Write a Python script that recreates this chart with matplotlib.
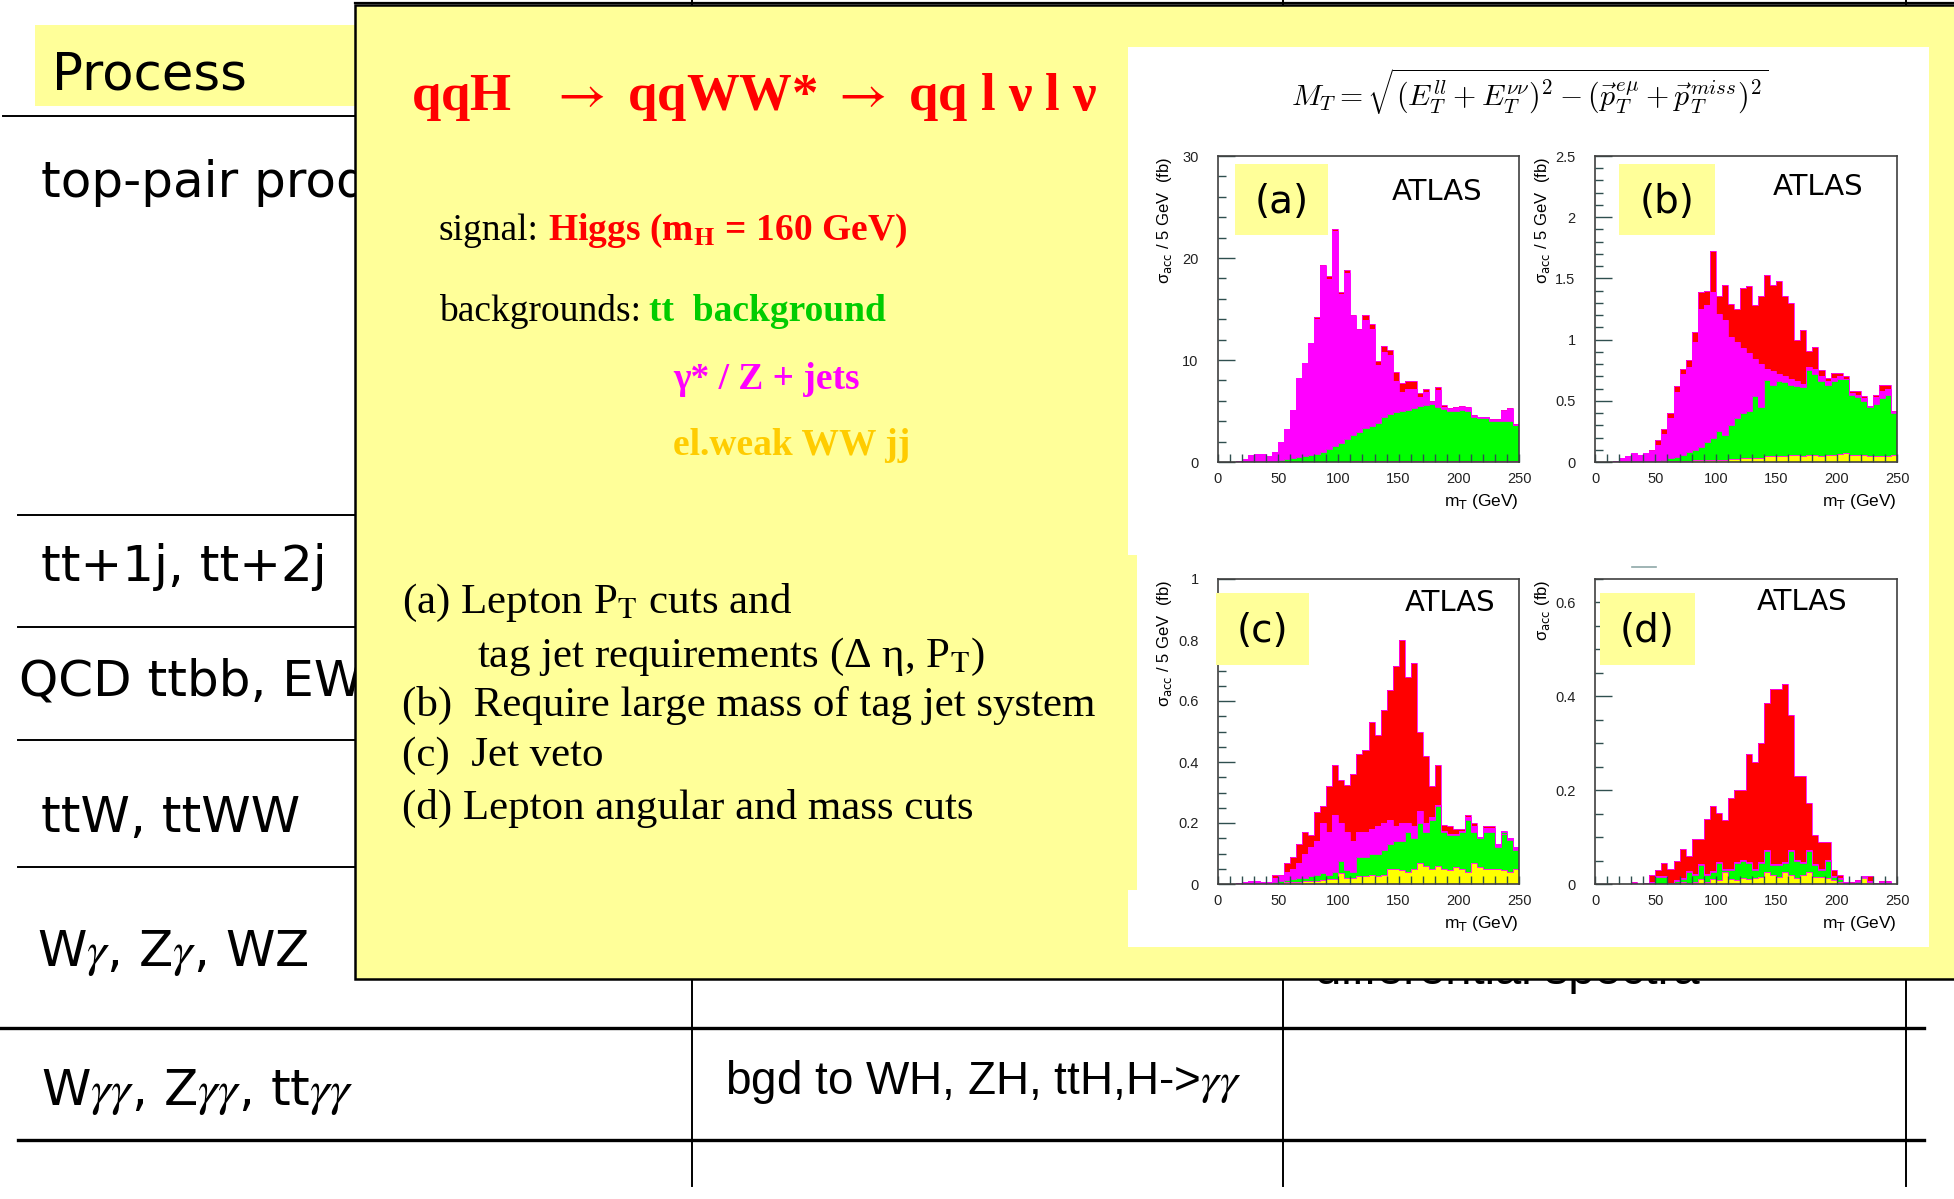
import numpy as np
import matplotlib.pyplot as plt
from matplotlib.patches import Rectangle
from matplotlib.ticker import MultipleLocator, FuncFormatter

W, H = 1954, 1199

plt.rcParams['font.family'] = ['Liberation Sans', 'DejaVu Sans']

SERIF = ['Liberation Serif', 'DejaVu Serif']
NARROW = ['Liberation Sans Narrow', 'Liberation Sans', 'DejaVu Sans']
HAND = ['DejaVu Sans']

# m_T in 5 GeV bins
edges = np.arange(0, 255, 5)

# stacked tops (fb / 5 GeV): ww = el.weak WWjj, tt = + ttbar, zj = + Z+jets, tot = + signal
a_ww = [0, 0, 0, 0, 0, 0, 0, 0, 0, 0,
        0, 0, 0, 0, 0, 0, 0, 0, 0.03, 0.03,
        0.04, 0.04, 0.05, 0.05, 0.05, 0.06, 0.06, 0.06, 0.07, 0.07,
        0.08, 0.08, 0.08, 0.09, 0.09, 0.1, 0.1, 0.1, 0.1, 0.1,
        0.1, 0.1, 0.1, 0.1, 0.1, 0.1, 0.1, 0.1, 0.1, 0.1]
a_tt = [0, 0, 0, 0, 0, 0, 0, 0, 0, 0,
        0.2, 0.25, 0.35, 0.45, 0.55, 0.7, 0.8, 1.0, 1.3, 1.6,
        1.9, 2.3, 2.6, 2.9, 3.3, 3.5, 3.8, 4.4, 4.7, 4.9,
        5.0, 5.1, 5.3, 5.5, 5.6, 5.7, 5.4, 5.2, 5.0, 5.0,
        5.1, 5.0, 4.4, 4.3, 4.3, 4.0, 4.0, 4.0, 4.0, 3.6]
a_zj = [0, 0, 0, 0.1, 0.3, 0.65, 0.75, 0.75, 0.6, 1.0,
        2.0, 3.2, 5.1, 8.2, 9.7, 11.7, 14.0, 19.2, 17.9, 22.6,
        16.5, 18.5, 14.3, 12.9, 13.9, 13.0, 9.5, 10.8, 10.5, 7.9,
        6.9, 7.2, 7.2, 6.4, 6.9, 5.9, 7.1, 5.4, 5.2, 5.3,
        5.35, 5.3, 4.5, 4.4, 4.4, 4.1, 4.1, 5.0, 5.2, 3.65]
a_tot = [0, 0, 0, 0.1, 0.3, 0.65, 0.75, 0.75, 0.6, 1.0,
         2.0, 3.2, 5.1, 8.2, 9.7, 11.7, 14.2, 19.3, 18.2, 22.8,
         16.7, 18.8, 14.4, 13.0, 14.4, 13.5, 9.9, 11.4, 11.0, 8.8,
         7.7, 7.9, 7.9, 6.8, 7.2, 6.0, 7.4, 5.6, 5.3, 5.4,
         5.45, 5.4, 4.6, 4.45, 4.45, 4.2, 4.2, 5.1, 5.3, 3.7]

b_ww = [0, 0, 0, 0, 0, 0, 0, 0, 0, 0,
        0.005, 0.005, 0.01, 0.01, 0.01, 0.01, 0.015, 0.015, 0.02, 0.02,
        0.02, 0.02, 0.025, 0.025, 0.03, 0.03, 0.03, 0.035, 0.05, 0.045,
        0.05, 0.045, 0.06, 0.055, 0.05, 0.06, 0.055, 0.05, 0.06, 0.055,
        0.065, 0.07, 0.06, 0.055, 0.055, 0.05, 0.05, 0.045, 0.05, 0.06]
b_tt = [0, 0, 0, 0, 0, 0, 0, 0, 0, 0,
        0.01, 0.02, 0.03, 0.04, 0.06, 0.08, 0.10, 0.12, 0.16, 0.20,
        0.25, 0.22, 0.30, 0.36, 0.40, 0.42, 0.54, 0.45, 0.67, 0.63,
        0.66, 0.65, 0.63, 0.62, 0.61, 0.75, 0.72, 0.66, 0.63, 0.66,
        0.68, 0.68, 0.55, 0.53, 0.50, 0.45, 0.47, 0.52, 0.55, 0.40]
b_zj = [0, 0, 0, 0.01, 0.03, 0.05, 0.07, 0.06, 0.07, 0.09,
        0.14, 0.23, 0.36, 0.57, 0.72, 0.78, 0.98, 1.25, 1.28, 1.39,
        1.21, 1.16, 1.02, 0.98, 0.93, 0.89, 0.84, 0.80, 0.76, 0.74,
        0.72, 0.70, 0.68, 0.66, 0.64, 0.78, 0.76, 0.70, 0.66, 0.69,
        0.70, 0.68, 0.56, 0.55, 0.52, 0.46, 0.53, 0.58, 0.60, 0.41]
b_tot = [0, 0, 0, 0.01, 0.03, 0.05, 0.07, 0.06, 0.07, 0.1,
         0.18, 0.27, 0.4, 0.62, 0.76, 0.83, 1.06, 1.39, 1.40, 1.72,
         1.36, 1.45, 1.29, 1.25, 1.42, 1.44, 1.28, 1.36, 1.53, 1.45,
         1.48, 1.36, 1.30, 1.00, 1.08, 0.91, 0.94, 0.75, 0.69, 0.73,
         0.73, 0.70, 0.58, 0.58, 0.54, 0.46, 0.55, 0.63, 0.63, 0.42]

c_ww = [0, 0, 0, 0, 0, 0, 0, 0, 0, 0,
        0, 0.005, 0.005, 0.005, 0.01, 0.01, 0.01, 0.012, 0.015, 0.015,
        0.035, 0.02, 0.02, 0.025, 0.025, 0.03, 0.025, 0.03, 0.05, 0.05,
        0.045, 0.04, 0.05, 0.07, 0.06, 0.05, 0.06, 0.05, 0.045, 0.055,
        0.05, 0.04, 0.07, 0.055, 0.05, 0.05, 0.05, 0.045, 0.04, 0.05]
c_tt = [0, 0, 0, 0, 0, 0, 0, 0, 0, 0.005,
        0.01, 0.012, 0.015, 0.02, 0.02, 0.025, 0.03, 0.035, 0.03, 0.04,
        0.075, 0.045, 0.04, 0.09, 0.09, 0.10, 0.10, 0.11, 0.13, 0.14,
        0.14, 0.17, 0.15, 0.20, 0.17, 0.21, 0.255, 0.17, 0.16, 0.16,
        0.17, 0.21, 0.17, 0.15, 0.17, 0.17, 0.12, 0.17, 0.145, 0.11]
c_zj = [0, 0, 0, 0.004, 0.006, 0.01, 0.01, 0.006, 0.006, 0.02,
        0.025, 0.04, 0.05, 0.07, 0.10, 0.12, 0.14, 0.20, 0.17, 0.225,
        0.20, 0.17, 0.14, 0.17, 0.17, 0.18, 0.19, 0.20, 0.21, 0.19,
        0.20, 0.20, 0.19, 0.24, 0.20, 0.22, 0.26, 0.175, 0.165, 0.165,
        0.175, 0.22, 0.19, 0.155, 0.185, 0.185, 0.13, 0.175, 0.15, 0.12]
c_tot = [0, 0, 0, 0.004, 0.006, 0.01, 0.01, 0.006, 0.006, 0.03,
         0.03, 0.07, 0.09, 0.13, 0.17, 0.16, 0.235, 0.255, 0.32, 0.39,
         0.34, 0.325, 0.36, 0.425, 0.44, 0.53, 0.49, 0.57, 0.635, 0.715,
         0.80, 0.68, 0.725, 0.50, 0.42, 0.32, 0.39, 0.195, 0.19, 0.18,
         0.18, 0.225, 0.20, 0.155, 0.19, 0.19, 0.13, 0.165, 0.15, 0.12]

d_ww = [0, 0, 0, 0, 0, 0, 0, 0, 0, 0,
        0, 0, 0, 0.003, 0.005, 0.003, 0.005, 0.01, 0.005, 0.01,
        0.008, 0.026, 0.01, 0.008, 0.012, 0.01, 0.012, 0.015, 0.025, 0.02,
        0.015, 0.025, 0.02, 0.012, 0.02, 0.025, 0.015, 0.015, 0.012, 0.008,
        0.005, 0.003, 0.002, 0, 0.012, 0.005, 0, 0, 0, 0]
d_tt = [0, 0, 0, 0, 0, 0, 0, 0, 0, 0.002,
        0.015, 0.015, 0.002, 0.006, 0.01, 0.025, 0.02, 0.04, 0.02, 0.025,
        0.045, 0.03, 0.03, 0.045, 0.05, 0.045, 0.03, 0.045, 0.07, 0.04,
        0.04, 0.045, 0.07, 0.05, 0.045, 0.07, 0.04, 0.03, 0.05, 0.015,
        0.01, 0.003, 0.002, 0.005, 0.015, 0.005, 0, 0.003, 0.003, 0]
d_zj = [0, 0, 0, 0, 0, 0, 0.003, 0, 0.001, 0.005,
        0.017, 0.017, 0.003, 0.008, 0.012, 0.027, 0.022, 0.042, 0.022, 0.027,
        0.047, 0.032, 0.032, 0.047, 0.052, 0.047, 0.032, 0.047, 0.072, 0.042,
        0.042, 0.047, 0.072, 0.052, 0.047, 0.072, 0.042, 0.032, 0.052, 0.017,
        0.012, 0.004, 0.003, 0.006, 0.016, 0.006, 0.002, 0.004, 0.004, 0]
d_tot = [0, 0, 0, 0, 0, 0, 0.005, 0, 0.002, 0.019,
         0.03, 0.044, 0.033, 0.049, 0.074, 0.06, 0.095, 0.095, 0.138, 0.166,
         0.152, 0.136, 0.184, 0.2, 0.2, 0.276, 0.26, 0.30, 0.385, 0.415,
         0.415, 0.427, 0.36, 0.23, 0.23, 0.173, 0.104, 0.09, 0.09, 0.03,
         0.02, 0.005, 0.005, 0.008, 0.018, 0.018, 0.003, 0.006, 0.006, 0]

# table rows on the slide underneath
row_labels = ['top-pair production', 'tt+1j, tt+2j', 'QCD ttbb, EW ttbb',
              'ttW, ttWW', 'W$\\gamma$, Z$\\gamma$, WZ',
              'W$\\gamma\\gamma$, Z$\\gamma\\gamma$, tt$\\gamma\\gamma$']
row_x = [41, 41, 19, 41, 37, 41]
row_base = [197, 581, 695, 832, 966, 1105]
row_lines = [515, 627, 740, 867]

cuts = ['(a) Lepton P$_\\mathrm{T}$ cuts and',
        'tag jet requirements (\u0394 \u03b7, P$_\\mathrm{T}$)',
        '(b)  Require large mass of tag jet system',
        '(c)  Jet veto',
        '(d) Lepton angular and mass cuts']
cut_x = [402, 477, 402, 402, 402]
cut_base = [613, 667, 716, 766, 819]

RED, MAG, GRN, YEL = '#ff0000', '#ff00ff', '#00ff00', '#ffff00'
PALE = '#ffff99'


def rect(l, t, r, b):
    return [l / W, 1 - b / H, (r - l) / W, (b - t) / H]


fig = plt.figure(figsize=(W / 100, H / 100), dpi=100)
fig.patch.set_facecolor('white')

bg = fig.add_axes([0, 0, 1, 1])
bg.set_xlim(0, W)
bg.set_ylim(H, 0)
bg.axis('off')

# --- table behind the overlay ---
bg.add_patch(Rectangle((35, 25), 400, 81, facecolor=PALE, edgecolor='none', zorder=1))
bg.text(52, 90, 'Process', fontsize=37, family=HAND, va='baseline', zorder=2)
bg.plot([355, W], [3, 3], color='black', lw=1.6, zorder=2)
bg.plot([3, 500], [116, 116], color='black', lw=1.4, zorder=2)
for y in row_lines:
    bg.plot([18, 500], [y, y], color='black', lw=1.4, zorder=2)
bg.plot([0, 1924], [1028, 1028], color='black', lw=2.4, zorder=2)
bg.plot([18, 1924], [1140, 1140], color='black', lw=2.4, zorder=2)
for x in [692, 1283, 1906]:
    bg.plot([x, x], [0, 1186], color='black', lw=1.4, zorder=2)
for lab, x, y in zip(row_labels, row_x, row_base):
    bg.text(x, y, lab, fontsize=36, family=HAND, va='baseline', zorder=2,
            math_fontfamily='stix')
bg.text(725, 1094, 'bgd to WH, ZH, ttH,H->$\\gamma\\gamma$', fontsize=33, family=NARROW,
        va='baseline', zorder=2, math_fontfamily='stix')
bg.text(1315, 984, 'differential spectra', fontsize=34, family=NARROW,
        va='baseline', zorder=2)

# --- yellow overlay box ---
bg.add_patch(Rectangle((355, 5), W, 974, facecolor=PALE, edgecolor='black', lw=1.8, zorder=5))
bg.add_patch(Rectangle((1128, 47), 801, 900, facecolor='white', edgecolor='none', zorder=6))
bg.add_patch(Rectangle((1128, 555), 9, 335, facecolor=PALE, edgecolor='none', zorder=6))

bg.text(411, 110, 'qqH   $\\rightarrow$ qqWW* $\\rightarrow$ qq l \u03bd l \u03bd',
        fontsize=38, family=SERIF, weight='bold', color=RED, va='baseline', zorder=7,
        math_fontfamily='stix')

bg.text(439, 240, 'signal:', fontsize=27, family=SERIF, va='baseline', zorder=7)
bg.text(548, 240, 'Higgs (m$_\\mathbf{H}$ = 160 GeV)', fontsize=27, family=SERIF,
        weight='bold', color=RED, va='baseline', zorder=7, math_fontfamily='stix')
bg.text(439, 321, 'backgrounds:', fontsize=27, family=SERIF, va='baseline', zorder=7)
bg.text(649, 321, 'tt  background', fontsize=27, family=SERIF, weight='bold',
        color='#00cc00', va='baseline', zorder=7)
bg.text(673, 389, '\u03b3* / Z + jets', fontsize=27, family=SERIF, weight='bold',
        color=MAG, va='baseline', zorder=7)
bg.text(673, 455, 'el.weak WW jj', fontsize=27, family=SERIF, weight='bold',
        color='#ffcc00', va='baseline', zorder=7)

for txt, x, y in zip(cuts, cut_x, cut_base):
    bg.text(x, y, txt, fontsize=31, family=SERIF, va='baseline', zorder=7,
            math_fontfamily='stix')

bg.text(1530, 92, r'$M_T = \sqrt{(E_T^{ll} + E_T^{\nu\nu})^2 - (\vec{p}_T^{e\mu} + \vec{p}_T^{miss})^2}$',
        fontsize=21.5, ha='center', va='center', zorder=7, math_fontfamily='cm')

# --- the four m_T distributions ---
panels = [
    dict(stack=(a_tot, a_zj, a_tt, a_ww), box=(1218, 156, 1519, 462), ymax=30,
         major=10, minor=2, tag='(a)', tag_box=(1235, 164, 1328, 235), atlas=(1437, 192),
         ylab='\u03c3$_\\mathrm{acc}$ / 5 GeV  (fb)', ylab_x=1165),
    dict(stack=(b_tot, b_zj, b_tt, b_ww), box=(1595, 156, 1897, 462), ymax=2.5,
         major=0.5, minor=0.1, tag='(b)', tag_box=(1619, 164, 1715, 235), atlas=(1818, 187),
         ylab='\u03c3$_\\mathrm{acc}$ / 5 GeV  (fb)', ylab_x=1543),
    dict(stack=(c_tot, c_zj, c_tt, c_ww), box=(1218, 579, 1519, 884), ymax=1.0,
         major=0.2, minor=0.05, tag='(c)', tag_box=(1216, 593, 1309, 665), atlas=(1450, 603),
         ylab='\u03c3$_\\mathrm{acc}$ / 5 GeV  (fb)', ylab_x=1165),
    dict(stack=(d_tot, d_zj, d_tt, d_ww), box=(1595, 579, 1897, 884), ymax=0.65,
         major=0.2, minor=0.05, tag='(d)', tag_box=(1600, 593, 1695, 665), atlas=(1802, 602),
         ylab='\u03c3$_\\mathrm{acc}$ (fb)', ylab_x=1542),
]

ov = fig.add_axes([0, 0, 1, 1], zorder=20)
ov.set_xlim(0, W)
ov.set_ylim(H, 0)
ov.axis('off')

fmt = FuncFormatter(lambda v, p: f'{v:g}')

for p in panels:
    l, t, r, b = p['box']
    ax = fig.add_axes(rect(l, t, r, b), zorder=10)
    for vals, col in zip(p['stack'], [RED, MAG, GRN, YEL]):
        ax.stairs(vals, edges, fill=True, color=col, zorder=1)
        ax.stairs(vals, edges, color=MAG, lw=0.6, zorder=1.2)
    ax.set_xlim(0, 250)
    ax.set_ylim(0, p['ymax'])
    ax.xaxis.set_major_locator(MultipleLocator(50))
    ax.xaxis.set_minor_locator(MultipleLocator(10))
    ax.yaxis.set_major_locator(MultipleLocator(p['major']))
    ax.yaxis.set_minor_locator(MultipleLocator(p['minor']))
    ax.xaxis.set_major_formatter(fmt)
    ax.yaxis.set_major_formatter(fmt)
    ax.tick_params(axis='both', which='both', direction='in', color='#2f4f4f',
                   width=1, labelsize=10.5, labelcolor='#222222')
    ax.tick_params(axis='y', which='major', length=12, pad=14)
    ax.tick_params(axis='y', which='minor', length=6)
    ax.tick_params(axis='x', which='both', length=6, pad=7)
    for s in ax.spines.values():
        s.set_color('#404040')
        s.set_linewidth(1.2)

    tl, tt, tr, tb = p['tag_box']
    ov.add_patch(Rectangle((tl, tt), tr - tl, tb - tt, facecolor=PALE, edgecolor='none'))
    ov.text((tl + tr) / 2, (tt + tb) / 2 + 2, p['tag'], fontsize=28, family=HAND,
            ha='center', va='center')
    ov.text(p['atlas'][0], p['atlas'][1], 'ATLAS', fontsize=21, family=HAND,
            ha='center', va='center')
    ov.text(p['ylab_x'], t + 1, p['ylab'], fontsize=12, rotation=90, ha='center',
            va='top', math_fontfamily='dejavusans')
    ov.text(r, b + 44, 'm$_\\mathrm{T}$ (GeV)', fontsize=12.5, ha='right',
            va='baseline', math_fontfamily='dejavusans')

ov.plot([1632, 1656], [567, 567], color='#8fa8a8', lw=1.2)

fig.savefig('out.png', dpi=100)
